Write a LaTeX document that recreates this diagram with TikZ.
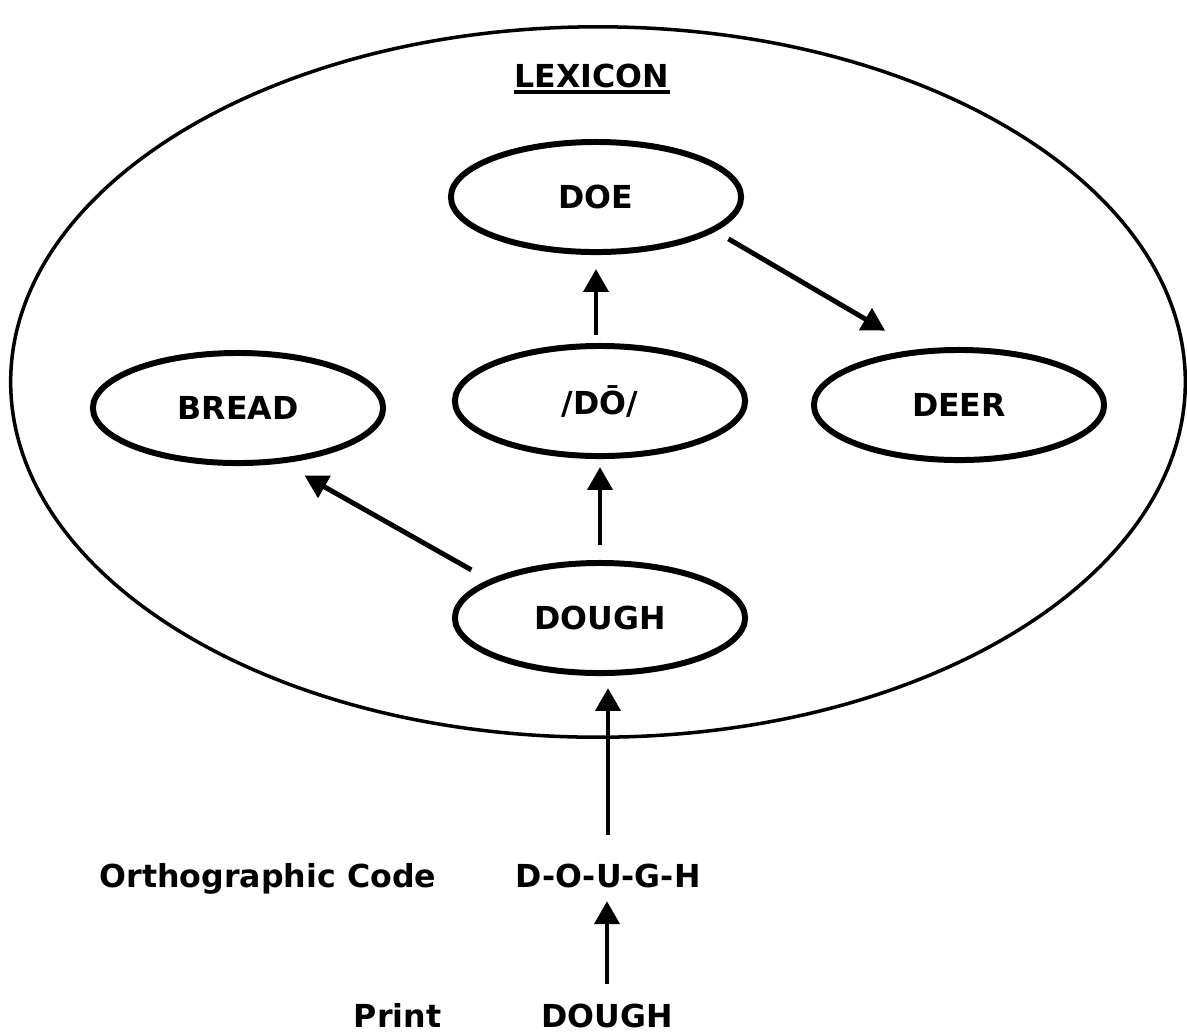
\documentclass[tikz,border=0pt]{standalone}
\usepackage{fontspec}
\setmainfont{DejaVu Sans}
\usepackage{tikz}
\usetikzlibrary{arrows.meta}
\usetikzlibrary{shapes.geometric}

\begin{document}
\begin{tikzpicture}[x=0.01cm,y=-0.01cm,
        wordnode/.style={draw,ellipse,line width=1.7pt,minimum width=2.9cm,minimum height=1.1cm,inner sep=0pt,font=\bfseries\fontsize{9}{11}\selectfont},
        plainword/.style={inner sep=0pt,font=\bfseries\fontsize{9}{11}\selectfont},
        lexarrow/.style={-{Triangle[length=6.5pt,width=7pt]},line width=1.4pt}]
        \newcommand{\lexwidth}{11.74cm}
        \newcommand{\lexheight}{7.1cm}
        \newcommand{\codebase}{887}
        \newcommand{\printbase}{1027}
        \useasboundingbox (0,0) rectangle (1187,1035);
        % the lexicon
        \node[draw,ellipse,line width=1pt,minimum width=\lexwidth,minimum height=\lexheight] (lexicon) at (598,382) {};
        \node[plainword,anchor=base] (lextitle) at (592,87) {LEXICON};
        \draw[line width=0.9pt] ([yshift=-0.05cm]lextitle.base west) -- ([yshift=-0.05cm]lextitle.base east);
        \node[wordnode] (doe) at (596,197) {DOE};
        \node[wordnode] (dophon) at (600,401) {/DŌ/};
        \node[wordnode] (bread) at (238,408) {BREAD};
        \node[wordnode] (deer) at (959,405) {DEER};
        \node[wordnode] (dough) at (600,618) {DOUGH};
        % input levels
        \node[plainword,anchor=base] (orthlabel) at (268,\codebase) {Orthographic Code};
        \node[plainword,anchor=base] (orthcode) at (608,\codebase) {D-O-U-G-H};
        \node[plainword,anchor=base east] (printlabel) at (442,\printbase) {Print};
        \node[plainword,anchor=base] (printword) at (607,\printbase) {DOUGH};
        % links
        \draw[lexarrow,shorten <=0.15cm,shorten >=0.08cm] (dough.north) -- (dophon.south);
        \draw[lexarrow,shorten <=0.08cm,shorten >=0.14cm] (doe.south |- dophon.north) -- (doe.south);
        \draw[lexarrow,shorten <=0.15cm,shorten >=0.37cm] (doe.-16) -- (deer.127);
        \draw[lexarrow,shorten <=0.2cm,shorten >=0.25cm] (dough.161) -- (bread.-51);
        \draw[lexarrow,shorten <=0.28cm,shorten >=0.12cm] (orthcode.north) -- (orthcode.north |- dough.south);
        \draw[lexarrow,shorten <=0.19cm,shorten >=0.13cm] (printword.north) -- (printword.north |- orthcode.south);
    \end{tikzpicture}
\end{document}
